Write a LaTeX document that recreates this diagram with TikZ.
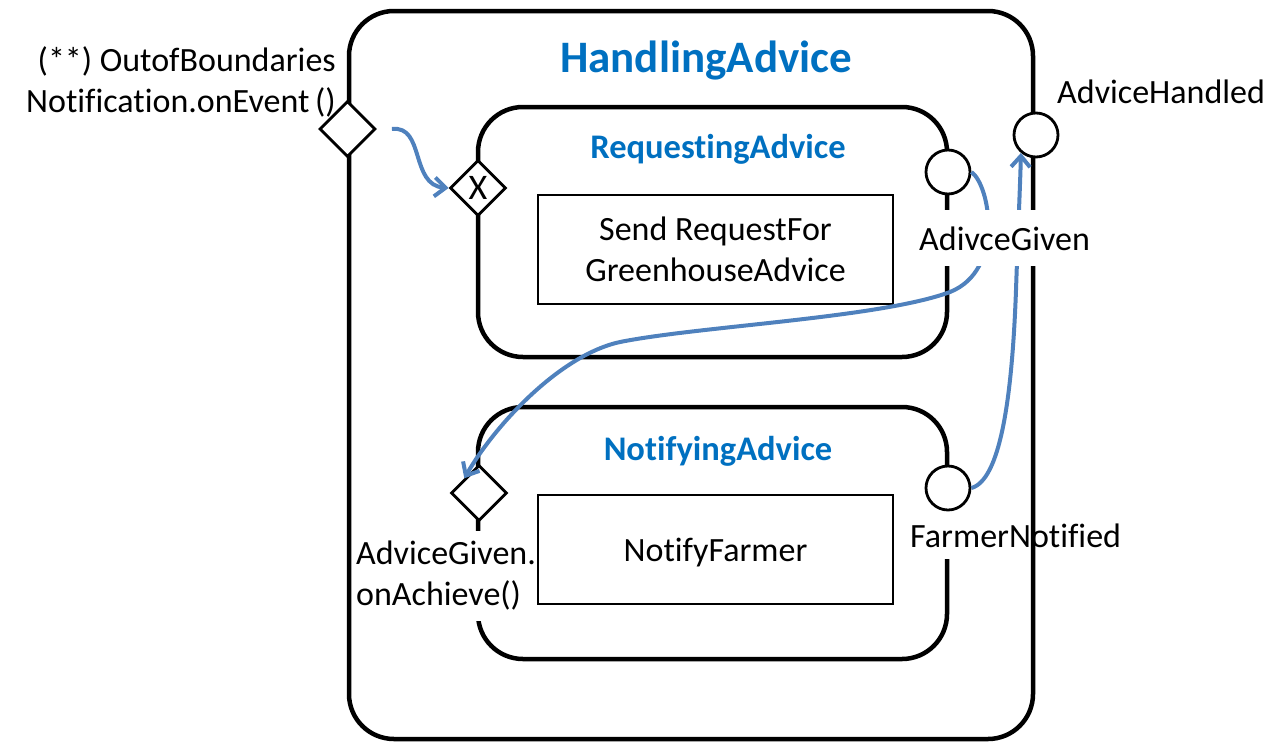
\documentclass[tikz,border=0pt]{standalone}
\usepackage{fontspec}
\setmainfont{Carlito}[Ligatures=NoCommon]
\usetikzlibrary{shapes.geometric,arrows.meta}
\definecolor{titleblue}{RGB}{0,112,192}
\definecolor{flowblue}{RGB}{79,129,189}

\begin{document}
\begin{tikzpicture}[x=1pt,y=-1pt,
    statebox/.style={draw, line width=4.5pt, rounded corners=45pt, inner sep=0pt},
    taskbox/.style={draw, line width=2.2pt, inner sep=0pt, align=center,
      font=\fontsize{34}{41}\selectfont},
    gate/.style={draw, fill=white, diamond, aspect=1, line width=2.8pt, inner sep=0pt,
      minimum width=56pt, minimum height=56pt, font=\fontsize{36}{40}\selectfont},
    port/.style={draw, fill=white, circle, line width=2.8pt, inner sep=0pt, minimum size=44pt},
    lbl/.style={inner sep=0pt, font=\fontsize{34}{41}\selectfont},
    title/.style={font=\fontsize{45}{50}\selectfont\bfseries, text=titleblue, inner sep=0pt},
    subtitle/.style={font=\fontsize{34.5}{40}\selectfont\bfseries, text=titleblue, inner sep=0pt},
    flow/.style={draw=flowblue, line width=4pt, -{Straight Barb[length=11pt,width=19pt]}}]
  \useasboundingbox (0,0) rectangle (1268,742);

  % inner states
  \node[statebox, minimum width=469pt, minimum height=250pt] (requesting) at (712.5,232) {};
  \node[statebox, minimum width=469pt, minimum height=252pt] (notifying) at (712.5,533) {};
  \node[taskbox, minimum width=355pt, minimum height=109pt] (sendreq) at (715.5,249.5)
    {Send RequestFor\\GreenhouseAdvice};
  \node[taskbox, minimum width=355pt, minimum height=109pt, text depth=0pt] (notify) at (715.5,549.5)
    {NotifyFarmer};

  \node[subtitle, anchor=base] (tReq) at (718,158) {RequestingAdvice};
  \node[subtitle, anchor=base] (tNot) at (718,460) {NotifyingAdvice};

  % labels that hide the inner borders
  \node[lbl, fill=white, anchor=base west, inner ysep=12pt] (lFN) at (910,547) {FarmerNotified};
  \node[lbl, fill=white, align=left, anchor=north west, inner ysep=10pt] (lAGo) at (356,531)
    {AdviceGiven.\\onAchieve()};

  % outer state
  \node[statebox, minimum width=684pt, minimum height=728pt] (handling) at (691,375) {};
  \node[title, anchor=base] (tHan) at (706,72) {HandlingAdvice};

  % gates and ports
  \node[gate] (dOut) at (347.5,129) {};
  \node[gate] (dX) at (478,188) {X};
  \node[gate] (dAch) at (479,493) {};
  \node[port] (cAG) at (948,172) {};
  \node[port] (cAH) at (1036,135) {};
  \node[port] (cFN) at (948,488) {};

  \node[lbl, align=right, anchor=north east] (lOut) at (336,46)
    {(**) OutofBoundaries\\Notification.onEvent\,()};
  \node[lbl, anchor=base west] (lAH) at (1057,103) {AdviceHandled};

  % transitions
  \coordinate (startOut) at ([xshift=15pt]dOut.east);
  \draw[flow] (startOut) .. controls (425,125) and (410,185) .. (dX.west);
  \draw[flow] (cAG.east) .. controls (990,185) and (1005,270) .. (950,292)
    .. controls (880,318) and (700,326) .. (620,342)
    .. controls (560,355) and (495,425) .. (dAch.north west);
  \draw[flow] (cFN.east) .. controls (1000,480) and (1012,400) .. (1016,290)
    .. controls (1018,230) and (1020,190) .. (cAH.-130);

  \node[lbl, fill=white, anchor=base west, inner xsep=4pt, inner ysep=16pt] (lAG) at (915,250) {AdivceGiven};
\end{tikzpicture}
\end{document}
